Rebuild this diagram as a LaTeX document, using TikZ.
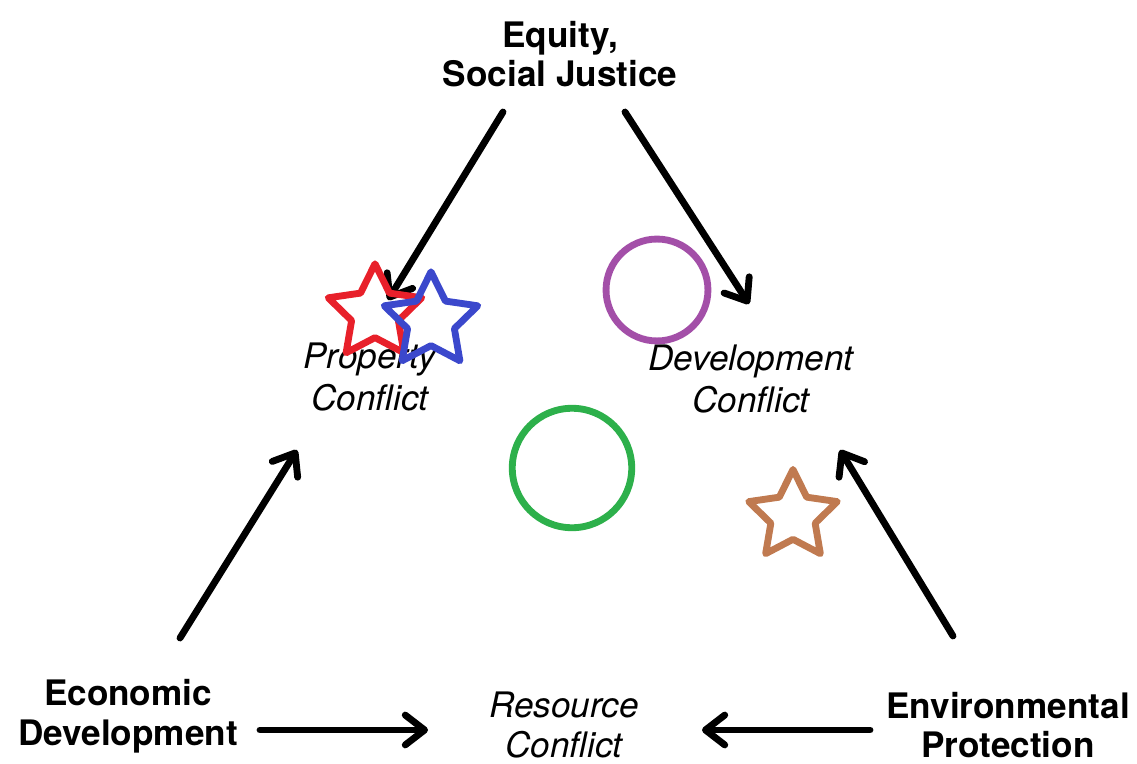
\documentclass[tikz,border=0pt]{standalone}
\usepackage{fontspec}
\setmainfont{TeX Gyre Heros}
\usetikzlibrary{arrows.meta,shapes.geometric}
\definecolor{cred}{HTML}{E8202A}
\definecolor{cblue}{HTML}{3B48CC}
\definecolor{cbrown}{HTML}{C07A50}
\definecolor{cpurple}{HTML}{A34FA8}
\definecolor{cgreen}{HTML}{2DB04B}
\tikzset{
  goal/.style={font=\bfseries\fontsize{20}{22}\selectfont, align=center, inner sep=0pt},
  conflict/.style={font=\itshape\fontsize{20}{24}\selectfont, align=center, inner sep=0pt},
  link/.style={line width=3.9pt, line cap=round, -{Straight Barb[length=11pt,width=17pt,line width=3.9pt,round]}},
  starmark/.style={star, star points=5, star point ratio=2.0, minimum size=56pt, inner sep=0pt, line width=3.9pt, line join=round, draw=#1},
  ringmark/.style={circle, inner sep=0pt, line width=3.9pt, draw=#1}
}
\begin{document}
\begin{tikzpicture}[x=0.02cm,y=-0.02cm]
\useasboundingbox (0,0) rectangle (1137,764);
\node[goal] (eq) at (560,54) {Equity,\\Social Justice};
\node[goal, font=\bfseries\fontsize{20}{23}\selectfont] (ec) at (128,716) {Economic\\Development};
\node[goal] (en) at (1008,725) {Environmental\\Protection};
\node[conflict] (pc) at (370,377) {Property\\Conflict};
\node[conflict] (dc) at (751,379) {Development\\Conflict};
\node[conflict, font=\itshape\fontsize{20}{23}\selectfont] (rc) at (564,725) {Resource\\Conflict};

\coordinate (a1s) at (503,112); \coordinate (a1e) at (388,300);
\coordinate (a2s) at (625,112); \coordinate (a2e) at (749,304);
\coordinate (a3s) at (180,638); \coordinate (a3e) at (297,450);
\coordinate (a4s) at (953,636); \coordinate (a4e) at (840,450);
\coordinate (a5s) at (260,730); \coordinate (a5e) at (428,730);
\coordinate (a6s) at (870,730); \coordinate (a6e) at (702,730);
\draw[link] (a1s) -- (a1e);
\draw[link] (a2s) -- (a2e);
\draw[link] (a3s) -- (a3e);
\draw[link] (a4s) -- (a4e);
\draw[link] (a5s) -- (a5e);
\draw[link] (a6s) -- (a6e);

\node[ringmark=cpurple, minimum size=58pt] (pr) at (657,290) {};
\node[ringmark=cgreen, minimum size=68pt] (gr) at (572,468) {};
\node[starmark=cred] (rs) at (375,313) {};
\node[starmark=cblue] (bs) at (431,321) {};
\node[starmark=cbrown, minimum size=53pt] (ns) at (793,516) {};
\end{tikzpicture}
\end{document}
